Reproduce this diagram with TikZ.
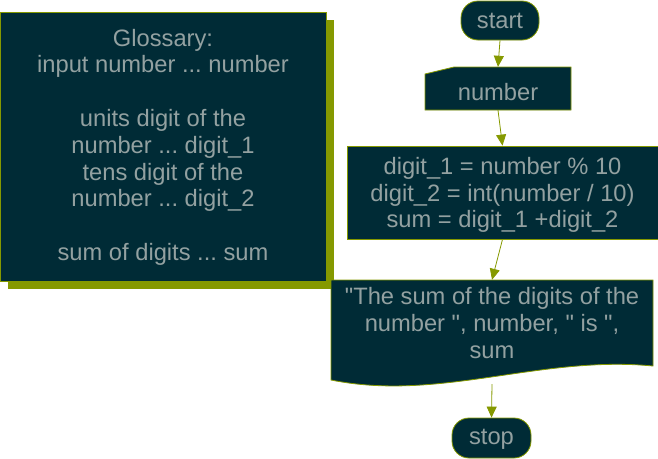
\documentclass[tikz,border=0pt]{standalone}
\usepackage{fontspec}
\setmainfont{Liberation Sans}[Ligatures=TeXOff]
\usetikzlibrary{arrows.meta}
\definecolor{boxfill}{HTML}{002B36}
\definecolor{boxtext}{HTML}{93A1A1}
\definecolor{oliveline}{HTML}{859900}
\frenchspacing
\tikzset{
  txt/.style={text=boxtext, font=\fontsize{23.7}{26.8}\selectfont, align=center, inner sep=0pt},
  base/.style={txt, fill=boxfill, draw=oliveline, line width=0.8pt},
  shapeline/.style={fill=boxfill, draw=oliveline, line width=0.8pt},
  shadowfill/.style={fill=oliveline},
  conn/.style={draw=oliveline, line width=0.8pt, -{Triangle[length=11pt,width=10pt]}},
}
\begin{document}
\begin{tikzpicture}[x=1pt,y=-1pt]
\useasboundingbox (0,0) rectangle (658,458);
% glossary
\fill[shadowfill] (7.5,19.5) rectangle (334,289);
\node[base, minimum width=326pt, minimum height=269pt] (gloss) at (163,146.5)
  {\rule{0pt}{18.5pt}Glossary:\\input number ... number\\~\\units digit of the\\number ... digit\_1\\tens digit of the\\number ... digit\_2\\~\\sum of digits ... sum};
% start
\node[base, rounded corners=17pt, minimum width=78pt, minimum height=39pt] (start) at (500,20.5) {start};
% manual input
\draw[shapeline] (425,110) -- (425,74) -- (454,67) -- (571,67) -- (571,110) -- cycle;
\node[txt, minimum width=146pt, minimum height=43pt, text height=24pt, text depth=0pt] (number) at (498,88.5) {number};
% process
\node[base, minimum width=311pt, minimum height=93pt] (proc) at (502.5,192.5)
  {\rule{0pt}{22pt}digit\_1 = number \% 10\\digit\_2 = int(number / 10)\\sum = digit\_1 +digit\_2};
% output
\draw[shapeline] (331,280) -- (653,280) -- (653,366) .. controls (540,355) and (440,402) .. (331,380) -- cycle;
\node[txt, minimum width=322pt, minimum height=86pt] (out) at (492,323)
  {"The sum of the digits of the\\number ", number, " is ",\\sum};
\coordinate (outbot) at (492,384);
% stop
\node[base, rounded corners=17pt, minimum width=79pt, minimum height=40pt, text depth=1.5pt] (stop) at (491.5,438) {stop};
% connectors
\draw[conn] (start.south) -- (number.north);
\draw[conn] (number.south) -- (proc.north);
\draw[conn] (proc.south) -- (out.north);
\draw[conn] (outbot) -- (stop.north);
\end{tikzpicture}
\end{document}
